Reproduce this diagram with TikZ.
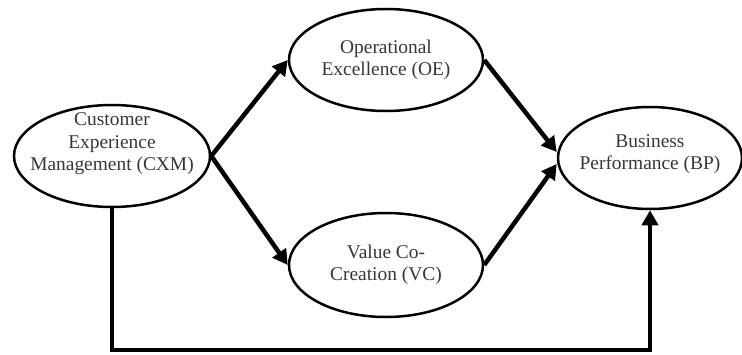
\documentclass[tikz,border=0pt]{standalone}
\usepackage{fontspec}
\setmainfont{Liberation Serif}
\usetikzlibrary{
    arrows.meta,
    shapes.geometric
}
\usepackage{xcolor}
\definecolor{textgray}{RGB}{55,55,55}

\begin{document}
\begin{tikzpicture}[
    x=1bp, y=1bp,
    oval/.style={
        ellipse, draw, line width=2.5bp, inner sep=0pt,
        minimum width=194bp, minimum height=102bp
    },
    ovaltext/.style={
        align=center, text=textgray,
        font=\fontsize{19.5}{22.5}\selectfont
    },
    arrow/.style={-{Triangle[length=15bp, width=16bp]}, line width=4.5bp}
]
\useasboundingbox (0,0) rectangle (742,354);

% Constructs
\node[oval, minimum width=196bp] (cxm) at (112, 198) {};
\node[oval] (oe) at (386, 294) {};
\node[oval, minimum height=104bp] (vc) at (386, 89) {};
\node[oval, minimum width=184bp] (bp) at (650, 196) {};

% Construct names
\node[ovaltext] (cxmtext) at ([yshift=12]cxm.center) {Customer\\Experience\\Management (CXM)};
\node[ovaltext] (oetext) at (oe) {Operational\\Excellence (OE)};
\node[ovaltext] (vctext) at (vc) {Value Co-\\Creation (VC)};
\node[ovaltext] (bptext) at ([yshift=4]bp.center) {Business\\Performance (BP)};

% Paths through the mediators
\draw[arrow] (cxm.east) -- (oe.west);
\draw[arrow] (cxm.east) -- (vc.west);
\draw[arrow] (oe.east) -- ([yshift=6]bp.west);
\draw[arrow] (vc.east) -- ([yshift=-6]bp.west);

% Direct path
\coordinate (base) at (0, 4);
\draw[arrow] (cxm.south) -- (cxm.south |- base) -| (bp.south);

\end{tikzpicture}
\end{document}
